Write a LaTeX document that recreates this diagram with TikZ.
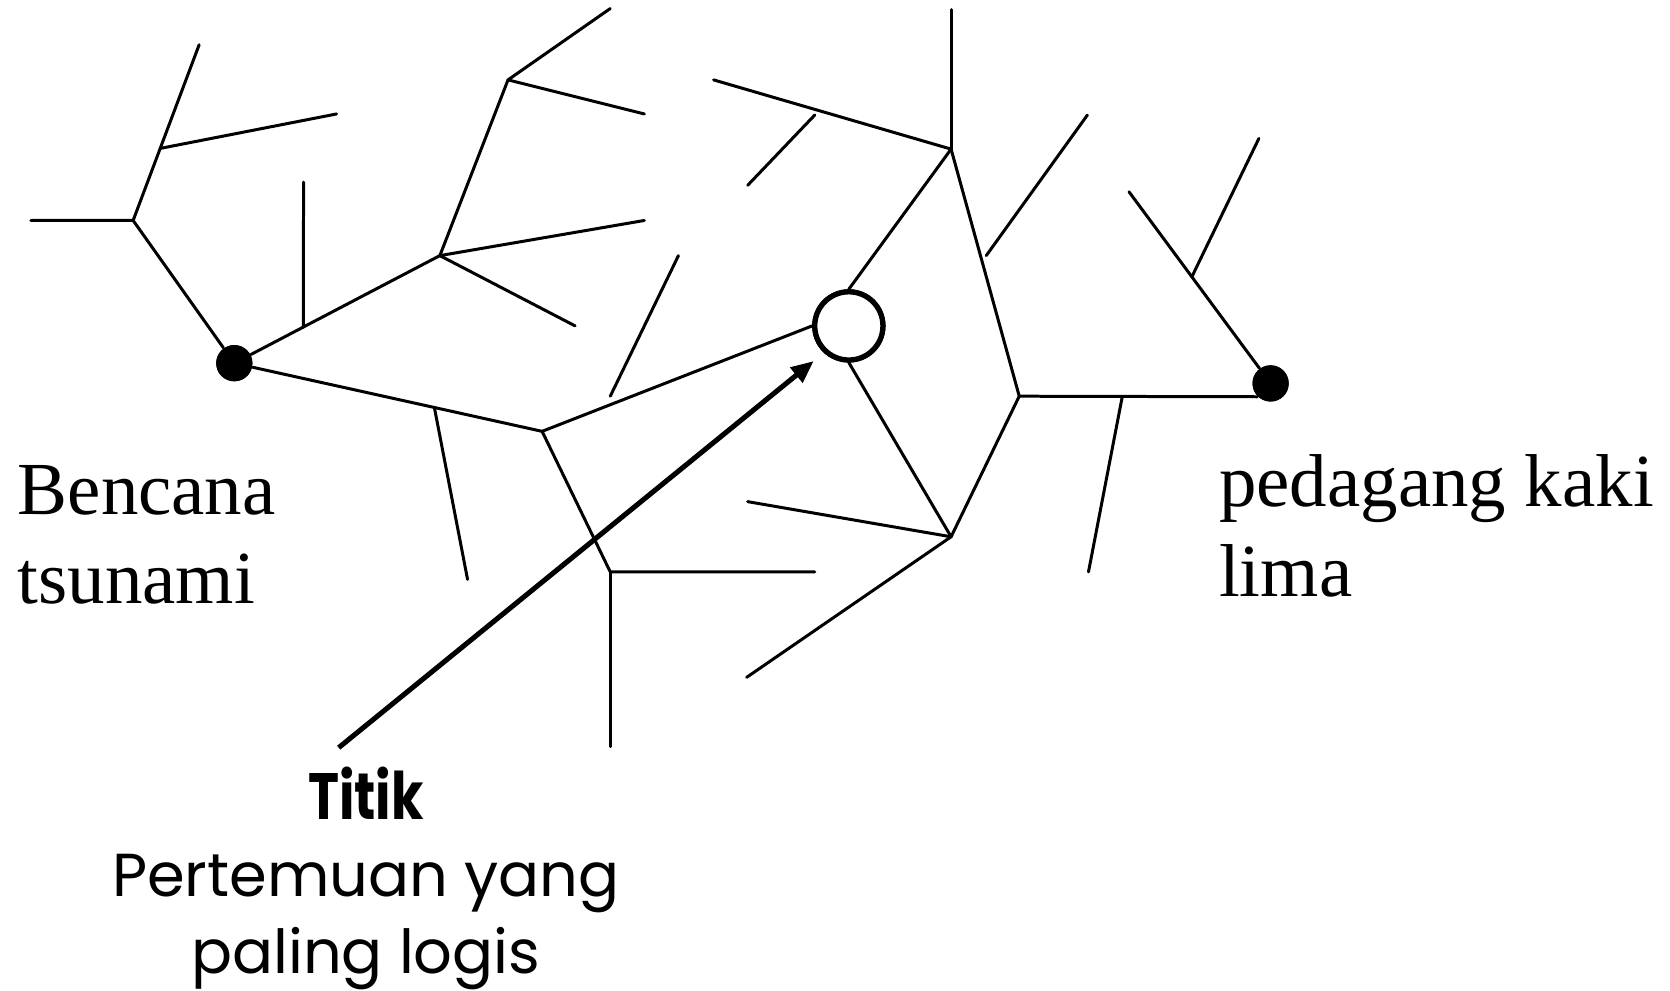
\documentclass[tikz,border=0pt]{standalone}
\usepackage{fontspec}
\setmainfont{Liberation Serif}
\newfontfamily\gothic{Poppins}
\usetikzlibrary{calc,arrows.meta}
\begin{document}
\begin{tikzpicture}[x=0.01cm,y=-0.01cm,
  ln/.style={line width=0.8pt, line cap=round},
  dotnode/.style={circle, fill=black, inner sep=0pt, minimum size=34*0.01cm},
  meetnode/.style={circle, draw=black, fill=white, line width=1.4pt, inner sep=0pt, minimum size=64*0.01cm},
  pointer/.style={line width=1.35pt, -{Triangle[length=6pt,width=5pt]}},
  serifbig/.style={font=\fontsize{20}{23.9}\selectfont, inner sep=0pt, align=left, anchor=base west},
  gothtext/.style={font=\gothic\fontsize{16.2}{20.5}\selectfont, inner sep=0pt, align=center, anchor=base}]
\fill[white] (0,0) rectangle (1568,930);
\useasboundingbox (0,0) rectangle (1568,930);

% junction and end coordinates
\coordinate (J1) at (125,207);
\coordinate (e1) at (29,207);
\coordinate (e2) at (187,42);
\coordinate (f1b) at (316,107);
\coordinate (J2) at (413,240);
\coordinate (v1t) at (285,171);
\coordinate (J3) at (477,75);
\coordinate (e3) at (573,8);
\coordinate (e4) at (605,107);
\coordinate (e5) at (605,207);
\coordinate (e6) at (540,306);
\coordinate (J4) at (509,405);
\coordinate (f2b) at (439,544);
\coordinate (g1a) at (573,372);
\coordinate (g1b) at (637,240);
\coordinate (J5) at (573,537);
\coordinate (e7) at (765,537);
\coordinate (e8) at (573,701);
\coordinate (J6) at (893,140);
\coordinate (e9) at (893,9);
\coordinate (e10) at (670,75);
\coordinate (g2a) at (702,174);
\coordinate (g2b) at (765,108);
\coordinate (J7) at (957,372);
\coordinate (g3a) at (926,240);
\coordinate (g3b) at (1021,108);
\coordinate (f3b) at (1022,537);
\coordinate (e11) at (1060,180);
\coordinate (f4b) at (1182,130);
\coordinate (J8) at (893,504);
\coordinate (e12) at (702,471);
\coordinate (e13) at (701,636);
\coordinate (astart) at (318,702);
\coordinate (atip) at (764,339);

% nodes
\node[dotnode] (A) at (220,341) {};
\node[dotnode] (B) at (1193,360) {};
\node[meetnode] (C) at (797,306) {};

% left tree
\draw[ln] (A) -- (J1) -- (e1);
\draw[ln] (J1) -- (e2);
\draw[ln] ($(J1)!0.41!(e2)$) -- (f1b);
\draw[ln] (A) -- (J2);
\draw[ln] ($(A)!0.336!(J2)$) -- (v1t);
\draw[ln] (J2) -- (J3) -- (e3);
\draw[ln] (J3) -- (e4);
\draw[ln] (J2) -- (e5);
\draw[ln] (J2) -- (e6);
\draw[ln] (A) -- (J4);
\draw[ln] ($(A)!0.65!(J4)$) -- (f2b);
\draw[ln] (g1a) -- (g1b);
\draw[ln] (J4) -- (C.west);
\draw[ln] (J4) -- (J5) -- (e7);
\draw[ln] (J5) -- (e8);

% right part
\draw[ln] (C.north) -- (J6);
\draw[ln] (J6) -- (e9);
\draw[ln] (J6) -- (e10);
\draw[ln] (g2a) -- (g2b);
\draw[ln] (J6) -- (J7);
\draw[ln] (g3a) -- (g3b);
\draw[ln] (J7) -- (B.225);
\draw[ln] ($(J7)!0.433!(B.225)$) -- (f3b);
\draw[ln] (B) -- (e11);
\draw[ln] ($(B)!0.556!(e11)$) -- (f4b);
\draw[ln] (C.south) -- (J8);
\draw[ln] (J8) -- (J7);
\draw[ln] (J8) -- (e12);
\draw[ln] (J8) -- (e13);

% redraw circle and dots on top
\node[meetnode] at (C) {};
\node[dotnode] at (A) {};
\node[dotnode] at (B) {};

% arrow
\draw[pointer] (astart) -- (atip);

% labels (base anchor = baseline of the last line)
\node[serifbig] (lbA) at (16,567) {Bencana\\tsunami};
\node[serifbig] (lbB) at (1144,560) {pedagang kaki\\lima};
\node[gothtext] (lbC) at (343.5,914) {{\bfseries\fontsize{17.5}{20.5}\selectfont\scalebox{0.8}[1]{Titik}}\\Pertemuan yang\\paling logis};
\end{tikzpicture}
\end{document}
